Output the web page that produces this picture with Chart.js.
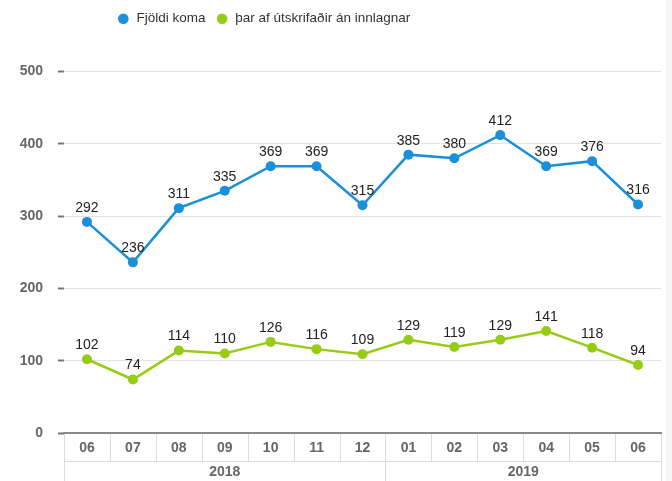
<!DOCTYPE html>
<html>
<head>
<meta charset="utf-8">
<script src="https://cdn.jsdelivr.net/npm/chart.js@4"></script>
<style>
  body { margin: 0; background: #f6f6f6; }
  #wrap { width: 666px; height: 481px; background: #fff; position: relative; }
</style>
</head>
<body>
<div id="wrap"><canvas id="mycanvas"></canvas></div>
<script>
var months = ['06', '07', '08', '09', '10', '11', '12', '01', '02', '03', '04', '05', '06'];
var years = [
  { label: '2018', from: 0, to: 6 },
  { label: '2019', from: 7, to: 12 }
];
var fjoldiKoma = [292, 236, 311, 335, 369, 369, 315, 385, 380, 412, 369, 376, 316];
var anInnlagnar = [102, 74, 114, 110, 126, 116, 109, 129, 119, 129, 141, 118, 94];

var blue = '#1b8fd8';
var green = '#98cb16';
var axisGrey = '#666';
var font = "'Liberation Sans', Arial, sans-serif";

// numbers above every point
var valueLabels = {
  id: 'valueLabels',
  afterDatasetsDraw: function(chart) {
    var ctx = chart.ctx;
    ctx.save();
    ctx.font = '14px ' + font;
    ctx.fillStyle = '#222';
    ctx.textAlign = 'center';
    ctx.textBaseline = 'middle';
    chart.data.datasets.forEach(function(ds, i) {
      chart.getDatasetMeta(i).data.forEach(function(pt, j) {
        ctx.fillText(ds.data[j], pt.x, pt.y - 14);
      });
    });
    ctx.restore();
  }
};

// month cells + year row under the x axis
var axisTable = {
  id: 'axisTable',
  afterDraw: function(chart) {
    var ctx = chart.ctx;
    var x = chart.scales.x;
    var area = chart.chartArea;
    var w = (area.right - area.left) / months.length;
    var top = area.bottom;
    var mid = top + 28;
    var bottom = chart.height;
    ctx.save();
    ctx.strokeStyle = '#dcdcdc';
    ctx.lineWidth = 1;
    ctx.beginPath();
    for (var i = 0; i <= months.length; i++) {
      var px = Math.round(area.left + i * w) + 0.5;
      ctx.moveTo(px, top + 1);
      ctx.lineTo(px, mid);
    }
    ctx.moveTo(area.left, mid + 0.5);
    ctx.lineTo(area.right, mid + 0.5);
    years.forEach(function(y) {
      var l = Math.round(x.getPixelForValue(y.from) - w / 2) + 0.5;
      var r = Math.round(x.getPixelForValue(y.to) + w / 2) + 0.5;
      ctx.moveTo(l, mid);
      ctx.lineTo(l, bottom);
      ctx.moveTo(r, mid);
      ctx.lineTo(r, bottom);
    });
    ctx.stroke();
    ctx.font = 'bold 14px ' + font;
    ctx.fillStyle = axisGrey;
    ctx.textAlign = 'center';
    ctx.textBaseline = 'middle';
    years.forEach(function(y) {
      var l = x.getPixelForValue(y.from) - w / 2;
      var r = x.getPixelForValue(y.to) + w / 2;
      ctx.fillText(y.label, (l + r) / 2, mid + 11);
    });
    ctx.restore();
  }
};

// extra room under the legend, and the legend sits left of centre
var legendSpace = {
  id: 'legendSpace',
  beforeInit: function(chart) {
    var fit = chart.legend.fit;
    chart.legend.fit = function() {
      fit.bind(chart.legend)();
      this.height += 38;
    };
  },
  afterLayout: function(chart) {
    chart.legend.right -= 136;
    chart.legend.top += 2;
  }
};

var ctx = document.getElementById('mycanvas');

var chart = new Chart(ctx, {
  type: 'line',
  data: {
    labels: months,
    datasets: [
      {
        label: 'Fjöldi koma',
        data: fjoldiKoma,
        borderColor: blue,
        backgroundColor: blue,
        pointBackgroundColor: blue,
        pointBorderColor: blue,
        borderWidth: 2.5,
        pointRadius: 5,
        pointBorderWidth: 0,
        fill: false,
        tension: 0
      },
      {
        label: 'þar af útskrifaðir án innlagnar',
        data: anInnlagnar,
        borderColor: green,
        backgroundColor: green,
        pointBackgroundColor: green,
        pointBorderColor: green,
        borderWidth: 2.5,
        pointRadius: 5,
        pointBorderWidth: 0,
        fill: false,
        tension: 0
      }
    ]
  },
  options: {
    responsive: true,
    maintainAspectRatio: false,
    animation: false,
    layout: { padding: { top: 0, right: 3, bottom: 0, left: 0 } },
    plugins: {
      tooltip: { enabled: false },
      legend: {
        position: 'top',
        labels: {
          usePointStyle: true,
          pointStyle: 'circle',
          boxWidth: 13,
          boxHeight: 7.5,
          padding: 10,
          color: '#333',
          font: { family: font, size: 13.5 }
        }
      }
    },
    scales: {
      x: {
        type: 'category',
        offset: true,
        grid: { display: false },
        border: { display: true, color: '#888', width: 2 },
        ticks: {
          color: axisGrey,
          padding: -1,
          maxRotation: 0,
          autoSkip: false,
          font: { family: font, size: 14, weight: 'bold' }
        },
        afterFit: function(scale) { scale.height = 48; }
      },
      y: {
        min: 0,
        max: 500,
        ticks: {
          stepSize: 100,
          color: axisGrey,
          padding: 12,
          font: { family: font, size: 14, weight: 'bold' }
        },
        grid: {
          color: '#e3e3e3',
          tickColor: '#777',
          tickLength: 9,
          tickWidth: 2,
          tickBorderDash: [6, 3],
          tickBorderDashOffset: 6
        },
        border: { display: false },
        afterFit: function(scale) { scale.width = 64; }
      }
    }
  },
  plugins: [valueLabels, axisTable, legendSpace]
});
</script>
</body>
</html>
